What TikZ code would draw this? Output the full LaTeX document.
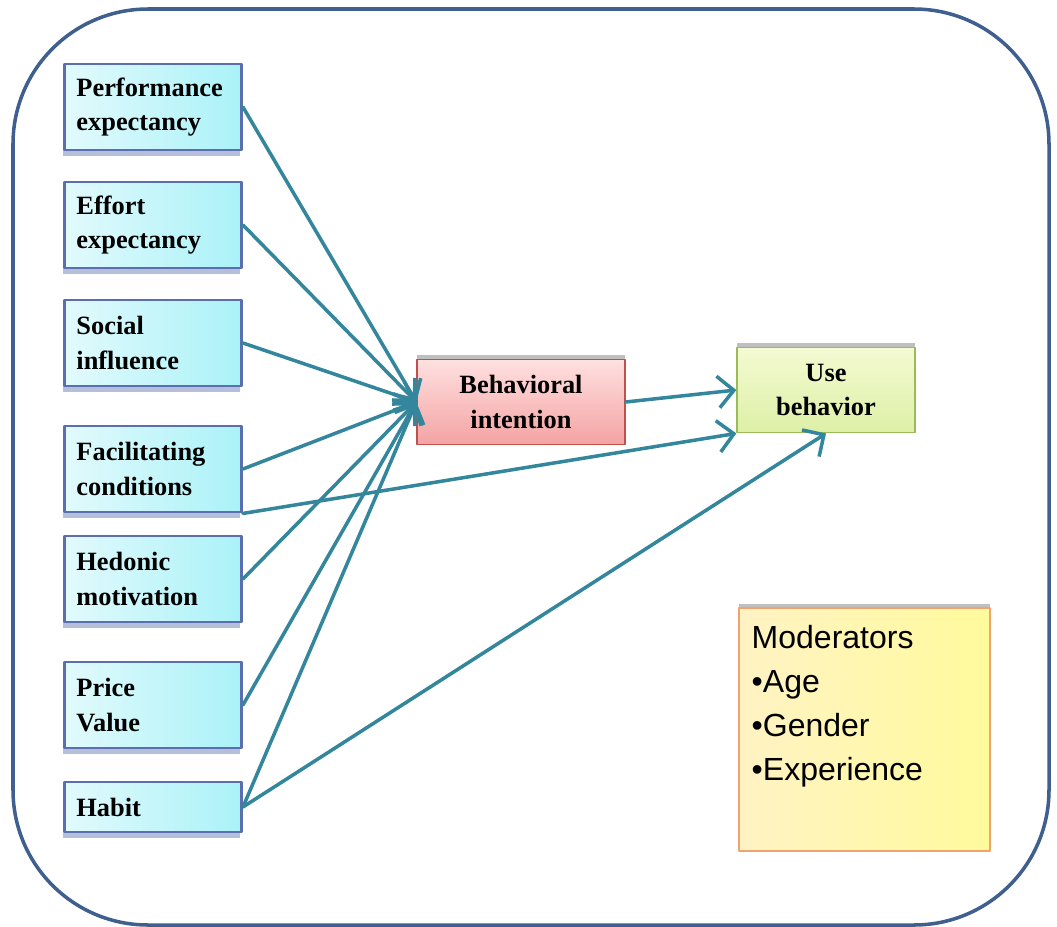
\documentclass[tikz,border=0pt]{standalone}
\usepackage{fontspec}
\setmainfont{Liberation Serif}
\newfontfamily\arialfont{Liberation Sans}
\usetikzlibrary{arrows.meta,shadows}
\definecolor{framecol}{HTML}{3F5F8F}
\definecolor{linkcol}{HTML}{33869C}
\definecolor{cyanL}{HTML}{E2FAFC}
\definecolor{cyanR}{HTML}{AAF2F8}
\definecolor{cyanB}{HTML}{5B6FAE}
\definecolor{pinkT}{HTML}{FFE0E0}
\definecolor{pinkB}{HTML}{F4A3A3}
\definecolor{pinkD}{HTML}{C0504D}
\definecolor{greenT}{HTML}{F4FAD2}
\definecolor{greenB}{HTML}{DDF0A6}
\definecolor{greenD}{HTML}{9BBB59}
\definecolor{yellowL}{HTML}{FFF3C4}
\definecolor{yellowR}{HTML}{FFFA9C}
\definecolor{yellowD}{HTML}{F2A36B}
\begin{document}
\begin{tikzpicture}[x=0.01cm, y=-0.01cm, line join=round, line cap=round,
  >={Straight Barb[length=4.5pt,width=9pt]},
  factor/.style={draw=cyanB, line width=0.8pt, left color=cyanL, right color=cyanR,
    text width=1.53cm, inner xsep=0.12cm, minimum height=0.86cm, align=left,
    font=\bfseries\fontsize{7.5}{9.7}\selectfont,
    drop shadow={shadow xshift=-0.3pt, shadow yshift=-1.6pt, fill=cyanB, opacity=0.45}},
  target/.style={line width=0.5pt, align=center, minimum height=0.85cm,
    font=\bfseries\fontsize{7.5}{9.7}\selectfont,
    drop shadow={shadow xshift=0pt, shadow yshift=1.2pt, fill=gray, opacity=0.5}},
  link/.style={->, linkcol, line width=1pt}]
\useasboundingbox (0,0) rectangle (1057,927);
\draw[framecol, line width=1pt, rounded corners=1.35cm] (13,9) rectangle (1049,925);
% determinants
\node[factor] (pe) at (153,107) {Performance expectancy};
\node[factor] (ee) at (153,225) {Effort\\ expectancy};
\node[factor] (si) at (153,343) {Social\\ influence};
\node[factor] (fc) at (153,469) {Facilitating conditions};
\node[factor] (hm) at (153,579) {Hedonic\\ motivation};
\node[factor] (pv) at (153,705) {Price\\ Value};
\node[factor, minimum height=0.5cm] (hb) at (153,807) {Habit};
% intention and use
\node[target, draw=pinkD, top color=pinkT, bottom color=pinkB, text width=1.84cm] (bi) at (521,402) {Behavioral intention};
\node[target, draw=greenD, top color=greenT, bottom color=greenB, text width=1.54cm] (ub) at (826,390) {Use\\ behavior};
% moderators
\node[draw=yellowD, line width=0.5pt, left color=yellowL, right color=yellowR,
  minimum width=2.51cm, minimum height=2.43cm, anchor=north west,
  drop shadow={shadow xshift=0pt, shadow yshift=1.2pt, fill=gray, opacity=0.5}]
  (mod) at (738,607) {};
\node[anchor=north west, text width=2.3cm, inner xsep=0.13cm, inner ysep=0.18cm, align=left,
  font=\arialfont\fontsize{9.1}{12.5}\selectfont]
  (modlist) at (mod.north west) {Moderators\\ \textbullet Age\\ \textbullet Gender\\ \textbullet Experience};
% paths
\foreach \n in {pe,ee,si,fc,hm,pv,hb}
  \draw[link] (\n.east) -- (bi.west);
\draw[link] (bi.east) -- (ub.west);
\draw[link] (fc.south east) -- (ub.south west);
\draw[link] (hb.east) -- (ub.south);
\end{tikzpicture}
\end{document}
